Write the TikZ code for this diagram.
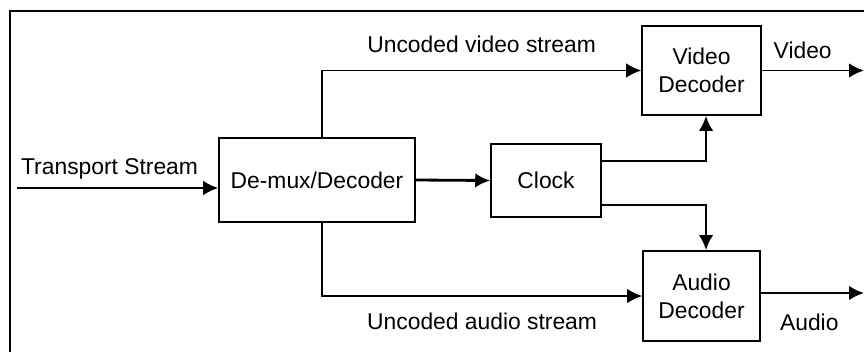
\documentclass[tikz,border=0pt]{standalone}
\usepackage{fontspec}
\setmainfont{Liberation Sans}
\usetikzlibrary{arrows.meta,positioning}

\begin{document}
\begin{tikzpicture}[x=0.02cm, y=-0.02cm, >={Latex[length=3mm,width=2.9mm]}, line width=1.1pt,
  every node/.style={font=\fontsize{13}{16}\selectfont},
  block/.style={draw, rectangle, line width=0.9pt, align=center, inner sep=0pt},
  heavy/.style={line width=1.6pt}]
  \useasboundingbox (0,0) rectangle (864,352);
  % frame
  \draw[line width=1.4pt] (10,352) |- (864,11);

  % blocks
  \node[block, minimum width=3.92cm, minimum height=1.68cm] (demux) at (317,180) {De-mux/Decoder};
  \node[block, minimum width=2.2cm, minimum height=1.46cm] (clock) at (546,180.5) {Clock};
  \node[block, minimum width=2.38cm, minimum height=1.78cm] (video) at (701.5,70.5) {Video\\Decoder};
  \node[block, minimum width=2.34cm, minimum height=1.8cm] (audio) at (701.5,296) {Audio\\Decoder};

  \coordinate (tsin) at (17,188);
  \coordinate (vout) at (864,70.5);
  \coordinate (aout) at (864,293);

  % connectors
  \draw[->] (tsin) -- (tsin -| demux.west) node[pos=0.46, above=1pt] {Transport Stream};
  \draw[->] (demux.north) ++(5,0) |- (video.west) node[pos=0.75, above=6pt] {Uncoded video stream};
  \draw[->] (demux.south) ++(5,0) |- (audio.west) node[pos=0.75, below=6pt] {Uncoded audio stream};
  \draw[->, heavy] (demux.east) -- (clock.west);
  \draw[->, heavy] ([yshift=0.39cm]clock.east) -| ([xshift=0.09cm]video.south);
  \draw[->, heavy] ([yshift=-0.49cm]clock.east) -| ([xshift=0.09cm]audio.north);
  \draw[->] (video.east) -- (vout) node[pos=0.4, above=3pt] {Video};
  \draw[->] (aout -| audio.east) -- (aout) node[pos=0.47, below=8pt] {Audio};
\end{tikzpicture}
\end{document}
